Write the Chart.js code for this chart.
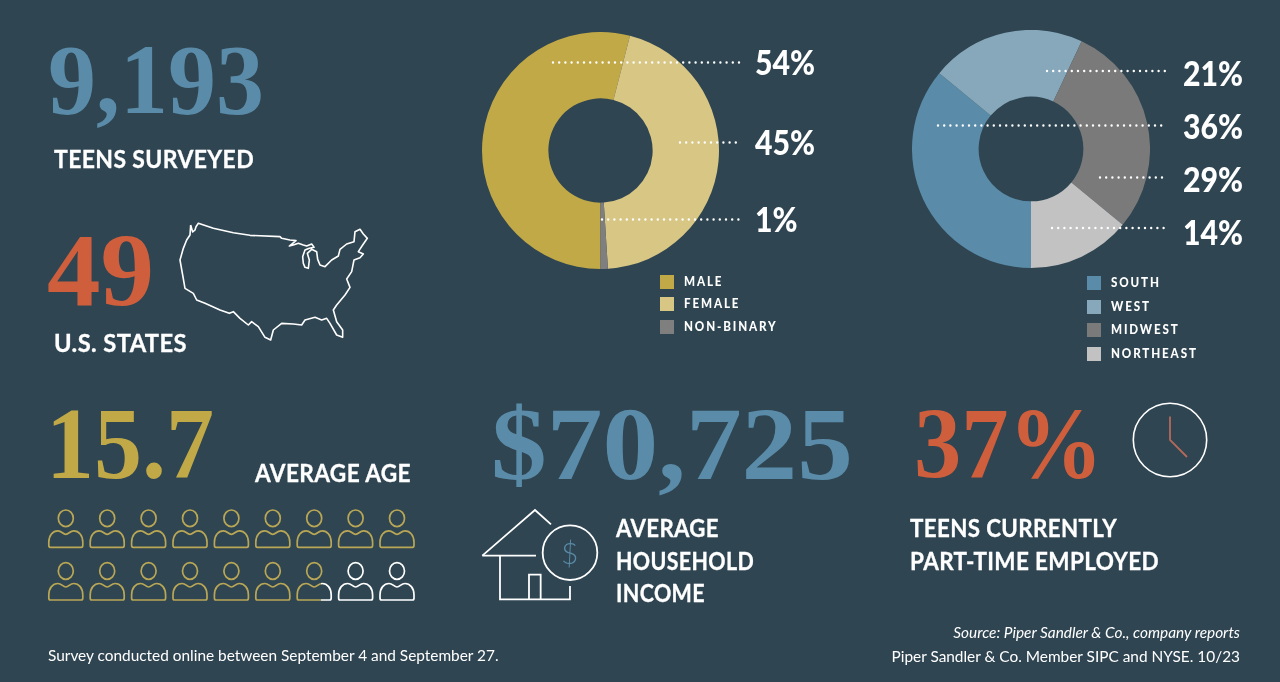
<!DOCTYPE html>
<html>
<head>
<meta charset="utf-8">
<title>Teen survey</title>
<script src="https://cdn.jsdelivr.net/npm/chart.js@4"></script>
<style>
  html, body { margin: 0; padding: 0; background: #2f4552; }
  #page { position: relative; width: 1280px; height: 682px; overflow: hidden; background: #2f4552; }
  #page canvas, #page svg { position: absolute; }
  .t { position: absolute; white-space: nowrap; color: #fff; font-family: Lato, sans-serif; line-height: 1; transform-origin: left top; }
  .big { font-family: "Liberation Serif", serif; font-weight: 700; }
  .head { font-weight: 700; font-size: 24px; letter-spacing: 0.4px; -webkit-text-stroke: 0.3px #fff; }
  .pct { font-weight: 900; font-size: 34px; transform: scaleX(0.89); }
  .leg { font-weight: 900; font-size: 12.5px; letter-spacing: 2px; transform: scaleX(0.93); }
  .swatch { position: absolute; width: 14px; height: 14px; }
  .note { font-size: 15.4px; }
</style>
</head>
<body>
<div id="page">
  <canvas id="gender-chart" width="237" height="237" style="left:482px;top:32px;width:237px;height:237px"></canvas>
  <canvas id="region-chart" width="238" height="238" style="left:912px;top:30px;width:238px;height:238px"></canvas>
  <svg id="art" width="1280" height="682" viewBox="0 0 1280 682" fill="none"></svg>
</div>
<script>
// chart data
const genderLabels = ['MALE', 'FEMALE', 'NON-BINARY'];
const genderValues = [54, 45, 1];
const genderColors = ['#c1a947', '#d8c684', '#7f7f7f'];

const regionLabels = ['SOUTH', 'WEST', 'MIDWEST', 'NORTHEAST'];
const regionValues = [36, 21, 29, 14];
const regionColors = ['#5a8ba8', '#87a8ba', '#7a7a7a', '#c2c2c2'];

// headline figures
const teensSurveyed = '9,193';
const statesCount = '49';
const averageAge = 15.7;
const householdIncome = '$70,725';
const employedShare = '37%';

// layout of the callouts: [index into values, leader start x, leader y, text centre y]
const genderCallouts = [[0, 553, 62.5, 61.5], [1, 680, 142.5, 142], [2, 602, 219.5, 219]];
const regionCallouts = [[1, 1047, 71, 73], [0, 938, 125.5, 126], [2, 1100, 177.5, 179], [3, 1052, 228, 232]];

const page = document.getElementById('page');
const art = document.getElementById('art');
const NS = 'http://www.w3.org/2000/svg';

function doughnut(id, labels, values, colors) {
    new Chart(document.getElementById(id), {
        type: 'doughnut',
        data: { labels: labels, datasets: [{ data: values, backgroundColor: colors, borderWidth: 0 }] },
        options: {
            responsive: false,
            animation: false,
            rotation: 180, // both rings start at the bottom
            cutout: '44%',
            layout: { padding: 0 },
            plugins: { legend: { display: false }, tooltip: { enabled: false } }
        }
    });
}

// width is optional, the text gets squeezed to it (no condensed font installed)
function text(str, x, y, cls, style, width) {
    const el = document.createElement('div');
    el.className = 't ' + cls;
    el.textContent = str;
    el.style.left = x + 'px';
    el.style.top = y + 'px';
    Object.assign(el.style, style || {});
    page.appendChild(el);
    if (width) el.style.transform = 'scaleX(' + (width / el.getBoundingClientRect().width) + ')';
    return el;
}

function shape(tag, attrs, parent) {
    const el = document.createElementNS(NS, tag);
    for (const k in attrs) el.setAttribute(k, attrs[k]);
    (parent || art).appendChild(el);
    return el;
}

function callouts(list, values, endX, textX) {
    list.forEach(([i, x, y, ty]) => {
        shape('line', { x1: x, y1: y, x2: endX, y2: y, stroke: '#fff', 'stroke-width': 2.4, 'stroke-linecap': 'round', 'stroke-dasharray': '0 6.2' });
        text(values[i] + '%', textX, ty - 17, 'pct');
    });
}

function legend(labels, colors, x, y, step) {
    labels.forEach((name, i) => {
        const sw = document.createElement('div');
        sw.className = 'swatch';
        sw.style.cssText = 'left:' + x + 'px;top:' + (y + i * step) + 'px;background:' + colors[i];
        page.appendChild(sw);
        text(name, x + 23.5, y + i * step + 1, 'leg');
    });
}

doughnut('gender-chart', genderLabels, genderValues, genderColors);
doughnut('region-chart', regionLabels, regionValues, regionColors);
callouts(genderCallouts, genderValues, 739, 755);
callouts(regionCallouts, regionValues, 1167, 1183);
legend(genderLabels, genderColors, 660, 274.5, 22.8);
legend(regionLabels, regionColors, 1087, 276, 23.6);

// big numbers
text(teensSurveyed, 48, 30, 'big', { fontSize: '100px', color: '#5a8ba8' }, 216);
text(statesCount, 47, 218, 'big', { fontSize: '104px', color: '#cf5f3c' }, 107);
text(String(averageAge), 46, 393, 'big', { fontSize: '102px', color: '#c1a947' }, 168);
text(householdIncome, 491, 392, 'big', { fontSize: '104px', color: '#5a8ba8' }, 362);
text(employedShare, 914, 393, 'big', { fontSize: '102px', color: '#cf5f3c' }, 189);

// headings
text('TEENS SURVEYED', 54, 147, 'head', null, 200);
text('U.S. STATES', 54, 331, 'head', null, 133);
text('AVERAGE AGE', 255, 461, 'head', null, 156);
text('AVERAGE', 616, 516, 'head', null, 103);
text('HOUSEHOLD', 616, 549, 'head', null, 138);
text('INCOME', 616, 581, 'head', null, 89);
text('TEENS CURRENTLY', 910, 516, 'head', null, 207);
text('PART-TIME EMPLOYED', 910, 549, 'head', null, 249);

// footer
text('Survey conducted online between September 4 and September 27.', 48, 648, 'note');
text('Source: Piper Sandler & Co., company reports', 0, 625, 'note', { left: 'auto', right: '40px', fontStyle: 'italic' });
text('Piper Sandler & Co. Member SIPC and NYSE. 10/23', 0, 649, 'note', { left: 'auto', right: '40px' });

// US outline, traced in crop coordinates
const usOutline = '62,45 68,66 75,60 78,50 85,40 130,55 190,68 240,76 330,80 335,85 360,90 378,92 368,100 358,108 372,104 385,100 400,105 410,108 425,102 432,112 418,115 405,120 398,140 400,160 405,172 415,175 418,150 412,130 425,118 440,125 443,148 450,165 465,170 485,150 505,138 510,118 530,102 552,95 555,65 570,58 580,72 592,85 578,105 565,125 580,132 570,143 552,150 545,185 530,207 540,232 525,255 500,285 490,300 500,335 518,360 518,382 500,375 480,340 470,325 455,330 435,322 405,330 395,345 370,342 335,340 310,360 302,390 285,382 265,350 245,335 235,345 210,325 190,305 178,310 150,300 105,280 80,270 70,250 45,235 38,195 30,150 40,115 50,90 60,75 62,45';
shape('polyline', {
    points: usOutline.split(' ').map(p => { const [a, b] = p.split(','); return (170 + a / 3) + ',' + (210 + b / 3); }).join(' '),
    stroke: '#fff', 'stroke-width': 1.6, 'stroke-linejoin': 'round'
});

// person icons, one per year of age, the last filled icon is partial
const defs = shape('defs', {});
const grad = shape('linearGradient', { id: 'partial', x1: 0, x2: 1, y1: 0, y2: 0 }, defs);
const frac = String(((averageAge % 1) * 100).toFixed(0)) + '%';
shape('stop', { offset: frac, 'stop-color': '#b9a755' }, grad);
shape('stop', { offset: frac, 'stop-color': '#fff' }, grad);

function person(cx, cy, color) {
    const g = shape('g', { transform: 'translate(' + cx + ',' + cy + ')', stroke: color, 'stroke-width': 1.7, 'stroke-linejoin': 'round' });
    shape('ellipse', { cx: 0, cy: 0, rx: 7.5, ry: 8.3, stroke: color === 'url(#partial)' ? '#b9a755' : color }, g);
    shape('path', { d: 'M-15.5,29 L15.5,29 Q17,29 17,27 L17,24 C17,17 13,12.5 8,12.5 C4,12.5 3,16 0,16 C-3,16 -4,12.5 -8,12.5 C-13,12.5 -17,17 -17,24 L-17,27 Q-17,29 -15.5,29 Z' }, g);
}
for (let i = 0; i < 18; i++) {
    const col = i % 9, row = Math.floor(i / 9);
    const filled = i + 1 <= Math.floor(averageAge);
    const color = filled ? '#b9a755' : (i === Math.floor(averageAge) ? 'url(#partial)' : '#fff');
    person(65.8 + col * 41.4, 518.3 + row * 52.7, color);
}

// house with a coin
const house = shape('g', { stroke: '#fff', transform: 'translate(475,500) scale(0.3333)' });
['M22,167 L180,30 L228,73', 'M22,167 L183,167', 'M75,167 L75,298 L285,298 L285,258', 'M162,298 L162,224 L197,224 L197,298'].forEach(d => {
    shape('path', { d: d, 'stroke-width': 5.4 }, house);
});
shape('circle', { cx: 285, cy: 158, r: 82, 'stroke-width': 5.4 }, house);
text('$', 561, 537, '', { fontSize: '30px', color: '#5a8ba8', fontWeight: 300 });

// clock
shape('circle', { cx: 1170, cy: 440, r: 36.7, stroke: '#fff', 'stroke-width': 1.6 });
shape('path', { d: 'M1170,416.5 L1170,440 L1187,457', stroke: '#b5695a', 'stroke-width': 1.8 });
</script>
</body>
</html>
